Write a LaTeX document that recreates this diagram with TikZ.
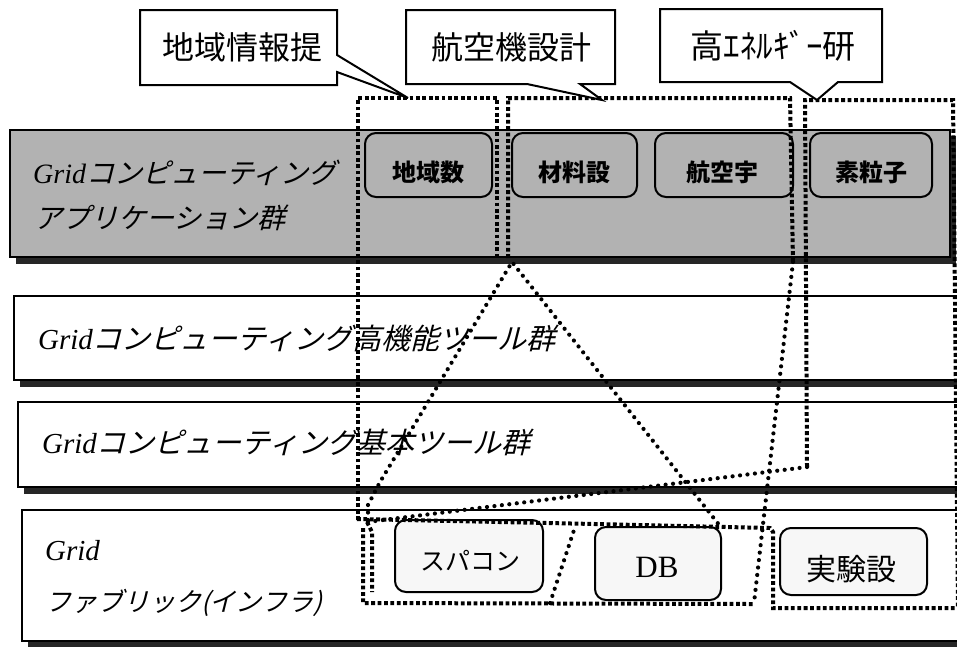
\documentclass[tikz,border=0pt]{standalone}
\usepackage{fontspec}
\setmainfont{Liberation Serif}
\newfontfamily\jp{Noto Sans CJK JP}
\newfontfamily\jpi[FakeSlant=0.25]{Noto Sans CJK JP}
\begin{document}
\begin{tikzpicture}[x=1pt,y=-1pt,
  band/.style={draw=black,line width=1.4pt,fill=white},
  shadowbar/.style={fill=black!85,draw=none},
  appbox/.style={draw=black,line width=2pt,rounded corners=11pt,inner sep=0pt},
  fabbox/.style={draw=black,line width=2pt,rounded corners=11pt,fill=black!3,inner sep=0pt},
  sqdots/.style={line width=4pt,dash pattern=on 3.8pt off 2.6pt},
  rddots/.style={line width=4.2pt,line cap=round,dash pattern=on 0pt off 7.5pt},
  callout/.style={draw=black,line width=2pt,fill=white,line join=miter},
  bandtxt/.style={anchor=west,inner sep=0pt,font=\fontsize{29pt}{29pt}\selectfont},
  boxtxt/.style={inner sep=0pt,font=\jp\bfseries\fontsize{24pt}{24pt}\selectfont},
  calltxt/.style={inner sep=0pt,font=\jp\fontsize{32pt}{32pt}\selectfont}]
\useasboundingbox (0,0) rectangle (957,646);
\clip (0,0) rectangle (957,646);
\fill[white] (0,0) rectangle (957,646);

% application band (shaded)
\fill[shadowbar] (16,257) rectangle (956,264);
\fill[shadowbar] (950,136) rectangle (956,264);
\draw[line width=1.4pt,fill=black!30] (10,130) rectangle (950,257);
% high-level tools band
\fill[shadowbar] (20,380) rectangle (970,387);
\draw[band] (14,296) rectangle (970,380);
% basic tools band
\fill[shadowbar] (24,487) rectangle (970,494);
\draw[band] (18,402) rectangle (970,487);
% fabric band
\fill[shadowbar] (28,641) rectangle (970,648);
\draw[band] (22,510) rectangle (970,641);

% band texts
\node[bandtxt,font=\fontsize{28pt}{28pt}\selectfont] (a1) at (33,173) {{\itshape Grid}{\jpi コンピューティング}};
\node[bandtxt,font=\fontsize{28pt}{28pt}\selectfont] (a2) at (34,218) {\jpi アプリケーション群};
\node[bandtxt] (hk) at (38,338) {{\itshape Grid}{\jpi コンピューティング高機能ツール群}};
\node[bandtxt] (kh) at (42,442) {{\itshape Grid}{\jpi コンピューティング基本ツール群}};
\node[bandtxt,anchor=base west] (f1) at (45,560) {\itshape Grid};
\node[bandtxt,font=\fontsize{26pt}{26pt}\selectfont] (f2) at (45,603) {\jpi ファブリック(インフラ)};

% application boxes
\node[appbox,minimum width=127pt,minimum height=64pt] (r1) at (428.5,165) {};
\node[appbox,minimum width=125pt,minimum height=64pt] (r2) at (574.5,165) {};
\node[appbox,minimum width=138pt,minimum height=64pt] (r3) at (724,165) {};
\node[appbox,minimum width=122pt,minimum height=64pt] (r4) at (871,165) {};
\node[boxtxt] (t1) at (428,172) {地域数};
\node[boxtxt] (t2) at (574,172) {材料設};
\node[boxtxt] (t3) at (722,172) {航空宇};
\node[boxtxt] (t4) at (871,172) {素粒子};

% fabric boxes
\node[fabbox,minimum width=148pt,minimum height=72pt] (s1) at (469,556) {};
\node[fabbox,minimum width=126pt,minimum height=73pt] (s2) at (658,563.5) {};
\node[fabbox,minimum width=147pt,minimum height=67pt] (s3) at (853.5,561.5) {};
\node[boxtxt,font=\jp\fontsize{25pt}{25pt}\selectfont] (u1) at (470,561) {スパコン};
\node[inner sep=0pt,font=\fontsize{31pt}{31pt}\selectfont] (u2) at (657,567) {DB};
\node[boxtxt,font=\jp\fontsize{30pt}{30pt}\selectfont] (u3) at (851,569) {実験設};

% dotted grouping outlines
\draw[sqdots] (358,520) -- (358,98) -- (497,98) -- (497,258);
\draw[sqdots] (508,258) -- (508,98) -- (790,98) -- (793,262);
\draw[rddots] (793,262) -- (754,603);
\draw[sqdots] (807,467) -- (805,100) -- (953,100) -- (958,608);
\draw[rddots] (807,467) -- (367,522);
\draw[sqdots] (367,522) -- (372,532) -- (372,592);
\draw[rddots] (368,520) -- (368,505) -- (380,482) -- (512,262) -- (720,526);
\draw[sqdots] (357,519) -- (595,524) -- (770,528) -- (773,532) -- (773,608) -- (960,608);
\draw[sqdots] (363,528) -- (363,603) -- (754,604);
\draw[rddots] (550,603) -- (575,527);

% callouts
\draw[callout] (140,10) -- (337,10) -- (337,55) -- (408,98) -- (337,72) -- (337,85) -- (140,85) -- cycle;
\node[calltxt] (c1) at (242,47) {地域情報提};
\draw[callout] (406,10) -- (615,10) -- (615,84) -- (580,84) -- (602,100) -- (527,84) -- (406,84) -- cycle;
\node[calltxt] (c2) at (511,47) {航空機設計};
\draw[callout] (660,9) -- (882,9) -- (882,82) -- (838,82) -- (817,100) -- (790,82) -- (660,82) -- cycle;
\node[calltxt,font=\jp\fontsize{33pt}{33pt}\selectfont] (c3) at (773,46) {高ｴﾈﾙｷﾞｰ研};
\end{tikzpicture}
\end{document}
